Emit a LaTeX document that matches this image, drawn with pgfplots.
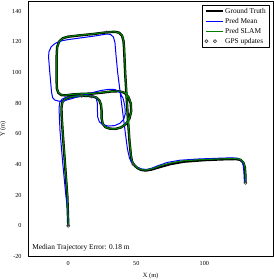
\documentclass[border=0pt]{standalone}
\usepackage{fontspec}
\setmainfont{Liberation Serif}
\usepackage{pgfplots}
\pgfplotsset{compat=1.18}
\definecolor{mplgreen}{RGB}{0,128,0}
\definecolor{mplblue}{RGB}{0,0,255}
\pgfplotsset{
  gps legend/.style={legend image code/.code={\draw[draw=black!75, only marks, mark=o, mark size=1.6bp, mark options={draw=black!75, line width=0.7bp}] plot coordinates {(0.03cm,0cm) (0.33cm,0cm)};}},
  gt legend/.style={legend image code/.code={\draw[draw=black, line width=2.4bp] (0cm,0cm) -- (0.6cm,0cm);}},
  blue legend/.style={legend image code/.code={\draw[draw=mplblue, line width=1.0bp] (0cm,0cm) -- (0.6cm,0cm);}},
  green legend/.style={legend image code/.code={\draw[draw=mplgreen, line width=1.1bp] (0cm,0cm) -- (0.6cm,0cm);}},
}
\begin{document}
\begin{tikzpicture}
\useasboundingbox (-28.3bp,-23.3bp) rectangle (245.7bp,256.7bp);
\begin{axis}[
  scale only axis, width=244.7bp, height=255bp,
  xmin=-29.4, xmax=150.5, ymin=-20.2, ymax=146.1,
  xtick={0,50,100}, ytick={-20,0,20,40,60,80,100,120,140},
  major tick length=0pt,
  axis line style={line width=0.8bp, black},
  /pgf/number format/assume math mode=true,
  tick label style={font=\fontsize{6.2}{7}\selectfont},
  yticklabel style={inner sep=0pt, xshift=-6.6bp},
  xticklabel style={inner sep=0pt, yshift=-4.5bp},
  xlabel={X (m)}, ylabel={Y (m)},
  xlabel style={at={(axis description cs:0.5,-0.0757)}, anchor=center, font=\fontsize{6.4}{7}\selectfont},
  ylabel style={at={(axis description cs:-0.1034,0.5)}, anchor=center, font=\fontsize{6.4}{7}\selectfont},
  legend cell align=left,
  legend style={at={(axis description cs:0.985,0.988)}, anchor=north east,
    font=\fontsize{7.4}{8}\selectfont,
    inner xsep=2bp, inner ysep=1.2bp, row sep=0pt,
    nodes={inner sep=1.4bp, text height=5.6bp, text depth=1.6bp}},
  line join=round,
]
% Ground truth
\addplot[draw=black, line width=2.4bp, gt legend] coordinates {
(0,0) (-0.7,19) (-2.4,40) (-4.2,62) (-4.9,72) (-5,77) (-4.4,80.5) (-2.5,82.6) (0.5,83.6) (5,84.2) (10,84.8) (17,84.5) (20.5,83.6) (22.8,81.8) (24,79) (24.5,75) (24.5,70) (25.3,66.5) (27.3,64.3) (30.5,63.3) (35,63.2) (39,64.2) (42.5,66.5) (45,70) (46.2,74.5) (46,79.5) (44.3,83.8) (41.5,86.6) (37.5,87.7) (32,87.6) (25,86.8) (18,86.2) (10,86) (3,85.6) (-2,85) (-5,85.2) (-7.3,86.6) (-8.4,89.5) (-8.6,95) (-8.6,110) (-8.2,116.5) (-6.8,120) (-4,122.3) (0,123.3) (8,124.1) (18,125) (28,126.1) (34,126.5) (37.3,125.9) (39.5,124) (40.6,120.5) (41,116) (41.8,100) (42.8,85) (43.8,70) (45,55) (46,46) (46.8,42) (48.2,39.8) (50.5,37.8) (53.5,36.4) (57,36) (61,36.6) (67,38.2) (75,40.2) (85,41.8) (100,42.8) (113,43.3) (123,43.5) (126.5,43) (128.7,41.2) (129.8,38) (130.2,33) (130.3,28)
};
\addlegendentry{Ground Truth}
% Pred Mean
\addplot[draw=mplblue, line width=1.0bp, blue legend] coordinates {
(0,0) (-0.4,10) (-1.7,19) (-4,40) (-6.1,62) (-6.6,72) (-6.8,77) (-6.2,80.5) (-4.5,82.6) (-2,83.6) (2,84.2) (8,84.9) (14,85.1) (18.5,84.6) (20.6,83) (21.3,80) (21.4,76) (21.6,71) (22.8,67.8) (25.5,65.8) (29.5,65) (34,65.3) (38,66.8) (40.8,69.5) (41.9,73) (41.6,78) (40.3,83) (38,86.8) (34.5,88.8) (30,89) (24,88.2) (17,86.6) (10,85) (3,83) (-3,81.5) (-7,81.2) (-10,82) (-11.5,83.5) (-12.3,87) (-13.6,100) (-14.5,110) (-14.2,113.5) (-12.5,116.8) (-9.5,119) (-5.5,120.5) (0,121.4) (10,122.6) (20,123.8) (28,125) (31,124.8) (33.2,123) (34.3,119.5) (35,112) (36.3,100) (38,88) (40,74) (42,60) (43.5,50) (45,44) (46.6,41.2) (48.5,39.6) (51,38) (54,37) (57.5,36.7) (61,37.4) (66,39.2) (73,41.3) (82,42.7) (95,43.5) (110,44) (120,44.3) (124.5,44) (127.3,42.5) (128.6,39.5) (129.1,35) (129.5,28.3)
};
\addlegendentry{Pred Mean}
% Pred SLAM
\addplot[draw=mplgreen, line width=1.1bp, green legend] coordinates {
(0,0) (-0.6,19) (-2.3,40) (-4.1,62) (-4.8,72) (-4.9,77) (-4.3,80.5) (-2.4,82.7) (0.5,83.8) (5,84.4) (10,84.9) (17,84.6) (20.6,83.7) (22.9,81.8) (24.1,79) (24.6,75) (24.6,70) (25.4,66.5) (27.4,64.3) (30.6,63.3) (35,63.2) (39,64.2) (42.5,66.6) (45,70) (46.3,74.5) (46.1,79.5) (44.4,83.8) (41.6,86.7) (37.5,87.8) (32,87.7) (25,86.9) (18,86.3) (10,86.1) (3,85.7) (-2,85.1) (-5,85.3) (-7.2,86.7) (-8.3,89.5) (-8.5,95) (-8.5,110) (-8.1,116.5) (-6.7,120) (-3.9,122.3) (0,123.4) (8,124.2) (18,125.1) (28,126.2) (34,126.5) (37.3,125.9) (39.6,124) (40.7,120.5) (41.1,116) (41.9,100) (42.9,85) (43.9,70) (45.1,55) (46.1,46) (46.9,42) (48.3,39.9) (50.6,37.9) (53.6,36.6) (57,36.3) (61,37) (67,38.9) (75,40.9) (85,42.4) (100,43.2) (113,43.6) (123,43.8) (126.6,43.2) (128.8,41.3) (129.9,38) (130.3,33) (130.4,28)
};
\addlegendentry{Pred SLAM}
% GPS updates
\addplot[only marks, mark=o, mark size=1.6bp, mark options={draw=black!75, line width=0.7bp}, gps legend]
 coordinates {(0,0) (9.9,84.8) (17.2,84.2) (28.2,126.1) (47.8,40.2) (130.2,28)};
\addlegendentry{GPS updates}
\node[anchor=west, font=\fontsize{7.4}{8}\selectfont, inner sep=0pt] at (axis description cs:0.016,0.034) {Median Trajectory Error: 0.18 m};
\end{axis}
\end{tikzpicture}
\end{document}
